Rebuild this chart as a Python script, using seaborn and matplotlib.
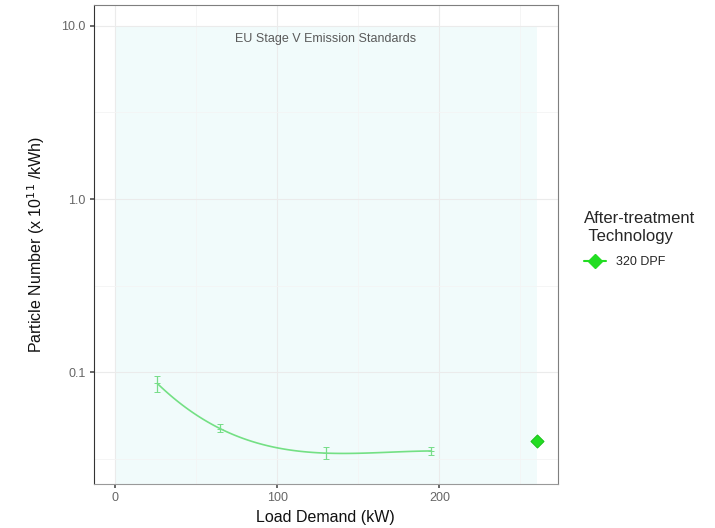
import numpy as np
import pandas as pd
import seaborn as sns
import matplotlib.pyplot as plt
from matplotlib.lines import Line2D
from matplotlib.ticker import FixedLocator

# values
load_kw = [26, 65, 130, 195]
pn_mean = [0.086, 0.047, 0.034, 0.035]
pn_low = [0.077, 0.045, 0.0314, 0.033]
pn_high = [0.095, 0.050, 0.0367, 0.0367]
dpf_load = [260]
dpf_pn = [0.040]
tech_label = "320 DPF"
zone_x = [0, 260]
zone_top = 10.0
y_ticks = [0.1, 1.0, 10.0]

sns.set_theme(style="whitegrid")
plt.rcParams['font.family'] = ['Liberation Sans', 'DejaVu Sans']

# work on log10 scale (like scale_y_log10, so the smoother is fit on the log values)
df = pd.DataFrame({'load': load_kw, 'pn': np.log10(pn_mean),
                   'lo': np.log10(pn_low), 'hi': np.log10(pn_high)})

fig = plt.figure(figsize=(7.15, 5.28), dpi=100)
ax = fig.add_axes([0.1315, 0.0833, 0.6485, 0.9072])

ax.set_xlim(-13, 273)
ax.set_ylim(-1.647, 1.121)

# stage V zone
ax.fill_between(zone_x, -5, np.log10(zone_top), color='#e0f8f8', alpha=0.45, lw=0, zorder=0)
ax.text(np.mean(zone_x), np.log10(8.45), "EU Stage V Emission Standards", ha='center',
        va='center', fontsize=9, color='#5a5a5a')

# smooth fit
sns.regplot(data=df, x='load', y='pn', order=3, ci=None, scatter=False, ax=ax,
            line_kws=dict(color='#66dd77', lw=1.2, alpha=0.9))
ax.errorbar(df['load'], df['pn'], yerr=[df['pn'] - df['lo'], df['hi'] - df['pn']],
            fmt='+', ms=5, mew=0.7, color='#77dd88', ecolor='#77dd88', elinewidth=0.9,
            capsize=2, capthick=0.8, zorder=3)
sns.scatterplot(x=dpf_load, y=np.log10(dpf_pn), marker='D', s=45, color='#22dd22',
                edgecolor='#11bb11', linewidth=0.6, ax=ax, zorder=4)

# grid like theme_bw
ax.xaxis.set_major_locator(FixedLocator([0, 100, 200]))
ax.xaxis.set_minor_locator(FixedLocator([50, 150, 250]))
ax.yaxis.set_major_locator(FixedLocator(np.log10(y_ticks)))
ax.yaxis.set_minor_locator(FixedLocator([-1.5, -0.5, 0.5]))
ax.set_yticklabels([f"{v:.1f}" for v in y_ticks])
ax.grid(which='major', color='#ebebeb', lw=0.8)
ax.grid(which='minor', color='#f4f4f4', lw=0.6)
ax.set_axisbelow(True)
ax.set_facecolor('white')
for s in ax.spines.values():
    s.set_color('#7f7f7f')
    s.set_linewidth(0.8)
ax.spines['left'].set_color('#333333')
ax.spines['bottom'].set_color('#999999')
ax.tick_params(which='major', length=3, color='#555555', labelsize=9, labelcolor='#666666',
               left=True, bottom=True, pad=3)
ax.tick_params(which='minor', length=0)

ax.set_xlabel("Load Demand (kW)", fontsize=11.5, color='#111111', labelpad=4)
ax.set_ylabel("Particle Number (x 10$^{11}$ /kWh)", fontsize=11.5, color='#111111', labelpad=10)

handle = Line2D([], [], color='#22dd22', marker='D', ms=7, lw=1.5)
leg = ax.legend([handle], [tech_label], title="After-treatment\n Technology",
                loc='upper left', bbox_to_anchor=(1.045, 0.58), frameon=False,
                fontsize=9, title_fontsize=12, handlelength=1.8,
                borderaxespad=0, labelspacing=0.3)
leg._legend_box.align = 'left'
leg._legend_box.sep = 9

fig.savefig('out.png', dpi=100)
